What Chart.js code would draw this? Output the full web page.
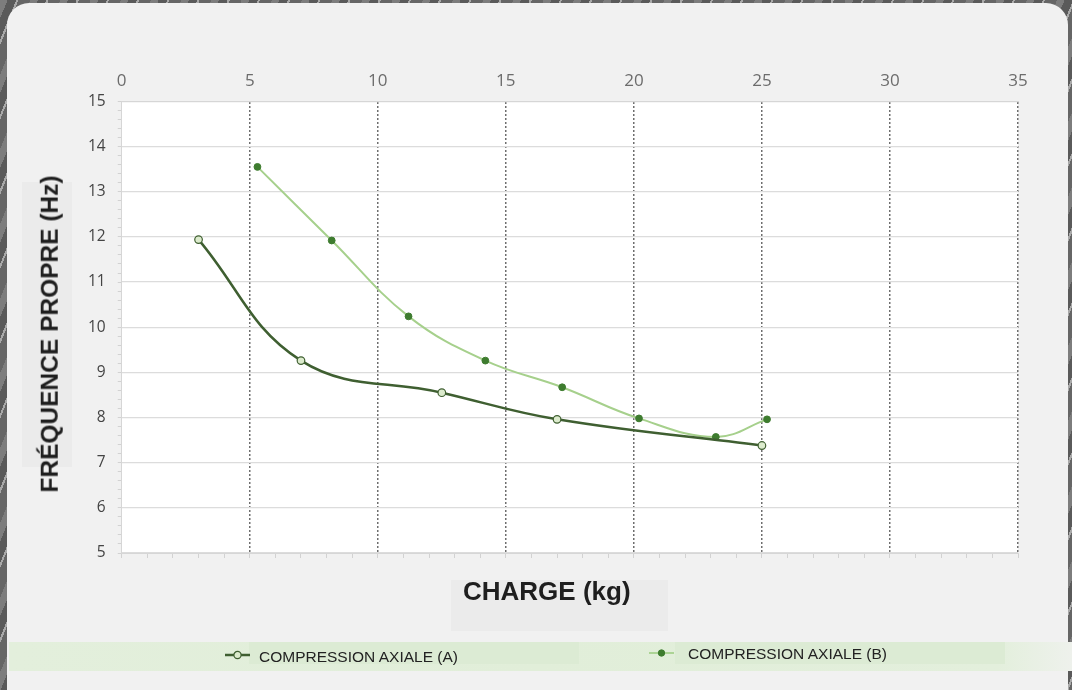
<!DOCTYPE html>
<html>
<head>
<meta charset="utf-8">
<script src="https://cdn.jsdelivr.net/npm/chart.js@4.4.1/dist/chart.umd.min.js"></script>
<style>
  html, body { margin: 0; padding: 0; }
  body {
    width: 1072px; height: 690px; overflow: hidden; position: relative;
    background: repeating-linear-gradient(112deg, #7d7d7d 0 7px, #5a5a5a 7px 15px, #a9a9a9 15px 17px, #666 17px 28px);
  }
  .card { position: absolute; left: 7px; top: 3px; width: 1061px; height: 720px; border-radius: 22px; background: #f1f1f1; }
  .box { position: absolute; background: #ebebeb; }
  .band { position: absolute; left: 9px; top: 642px; width: 1063px; height: 29px;
    background: linear-gradient(to right, #e3efdc 0%, #e1eed9 50%, #e3efdc 93%, #eef1ec 100%); }
  .band .inner { position: absolute; top: 0; height: 22px; background: #dcebd4; }
  canvas { position: absolute; left: 0; top: 0; }
  .ttl { position: absolute; font-family: "Liberation Sans", Arial, sans-serif; font-weight: bold; line-height: 1; white-space: nowrap; color: #1e1e1e; }
  .leg { position: absolute; font-family: "Liberation Sans", Arial, sans-serif; font-size: 15.5px; line-height: 1; color: #222; white-space: nowrap; }
  svg { position: absolute; }
</style>
</head>
<body>
<div class="card"></div>
<div class="box" style="left:22px;top:182px;width:50px;height:285px;"></div>
<div class="box" style="left:451px;top:580px;width:217px;height:51px;"></div>
<div class="band">
  <div class="inner" style="left:240px;width:330px;"></div>
  <div class="inner" style="left:666px;width:330px;"></div>
</div>
<canvas id="chart" width="1072" height="690"></canvas>
<div class="ttl" id="yTitle" style="font-size:24.5px;left:50px;top:334px;transform:translate(-50%,-50%) rotate(-90deg);">FRÉQUENCE PROPRE (Hz)</div>
<div class="ttl" id="xTitle" style="font-size:26px;left:463px;top:578px;">CHARGE (kg)</div>

<svg style="left:224px;top:648px;" width="27" height="14">
  <line x1="1" y1="7" x2="26" y2="7" stroke="#3f5f31" stroke-width="2.5"/>
  <circle cx="13.5" cy="7" r="3.6" fill="#dcebcd" stroke="#3f5f31" stroke-width="1.2"/>
</svg>
<div class="leg" style="left:259px;top:649px;">COMPRESSION AXIALE (A)</div>
<svg style="left:648px;top:646px;" width="27" height="14">
  <line x1="1" y1="7" x2="26" y2="7" stroke="#9fcd84" stroke-width="1.6"/>
  <circle cx="13.5" cy="7" r="3.2" fill="#3e7c2f" stroke="#3e7c2f" stroke-width="1"/>
</svg>
<div class="leg" style="left:688px;top:645.5px;">COMPRESSION AXIALE (B)</div>

<script>
// data
const chargeA = [3, 7, 12.5, 17, 25];
const freqA = [11.94, 9.26, 8.55, 7.96, 7.38];
const chargeB = [5.3, 8.2, 11.2, 14.2, 17.2, 20.2, 23.2, 25.2];
const freqB = [13.55, 11.92, 10.24, 9.26, 8.67, 7.98, 7.57, 7.96];
const seriesNames = ["COMPRESSION AXIALE (A)", "COMPRESSION AXIALE (B)"];

// axes
const chargeMin = 0, chargeMax = 35, chargeStep = 5;
const freqMin = 5, freqMax = 15, freqStep = 1;

const toPoints = (xs, ys) => xs.map((x, i) => ({ x: x, y: ys[i] }));

// white plot area
const plotBg = {
  id: "plotBg",
  beforeDraw(chart) {
    const { ctx, chartArea: a } = chart;
    ctx.save();
    ctx.fillStyle = "#ffffff";
    ctx.fillRect(a.left, a.top, a.right - a.left, a.bottom - a.top);
    ctx.restore();
  },
};

new Chart(document.getElementById("chart").getContext("2d"), {
  type: "line",
  data: {
    datasets: [
      {
        label: seriesNames[0],
        data: toPoints(chargeA, freqA),
        borderColor: "#3f5f31",
        borderWidth: 2.5,
        tension: 0.4,
        pointRadius: 3.8,
        pointBackgroundColor: "#dcebcd",
        pointBorderColor: "#3f5f31",
        pointBorderWidth: 1.2,
      },
      {
        label: seriesNames[1],
        data: toPoints(chargeB, freqB),
        borderColor: "#a6d08c",
        borderWidth: 2,
        tension: 0.4,
        pointRadius: 3.4,
        pointBackgroundColor: "#3e7c2f",
        pointBorderColor: "#3e7c2f",
        pointBorderWidth: 1,
      },
    ],
  },
  options: {
    responsive: false,
    animation: false,
    layout: { padding: { left: 76, right: 54, top: 61, bottom: 132 } },
    plugins: { legend: { display: false }, tooltip: { enabled: false } },
    scales: {
      x: {
        type: "linear",
        position: "top",
        min: chargeMin,
        max: chargeMax,
        ticks: { stepSize: chargeStep, padding: 10, color: "#6c6c6c", font: { family: "Open Sans", size: 17 } },
        grid: {
          drawTicks: false,
          color: (c) => (c.tick && c.tick.value === chargeMin ? "#d6d6d6" : "#6e6e6e"),
          lineWidth: (c) => (c.tick && c.tick.value === chargeMin ? 1 : 1.5),
        },
        border: {
          color: "#d6d6d6",
          dash: (c) => (c.tick && c.tick.value !== chargeMin ? [2, 2] : []),
        },
      },
      xMinor: {
        type: "linear",
        position: "bottom",
        min: chargeMin,
        max: chargeMax,
        ticks: { stepSize: 1, display: false },
        grid: { drawOnChartArea: false, tickLength: 5, tickColor: "#d2d2d2" },
        border: { color: "#d6d6d6" },
      },
      y: {
        position: "left",
        weight: 1,
        min: freqMin,
        max: freqMax,
        ticks: { stepSize: freqStep, padding: 12, color: "#444", font: { family: "Open Sans", size: 15.5 } },
        grid: { drawTicks: false, color: "#dcdcdc", lineWidth: 1.2 },
        border: { display: false },
      },
      yMinor: {
        position: "left",
        weight: 0,
        min: freqMin,
        max: freqMax,
        ticks: { stepSize: 0.2, display: false },
        grid: { drawOnChartArea: false, tickLength: 4, tickColor: "#d2d2d2" },
        border: { color: "#d6d6d6" },
      },
    },
  },
  plugins: [plotBg],
});
</script>
</body>
</html>
